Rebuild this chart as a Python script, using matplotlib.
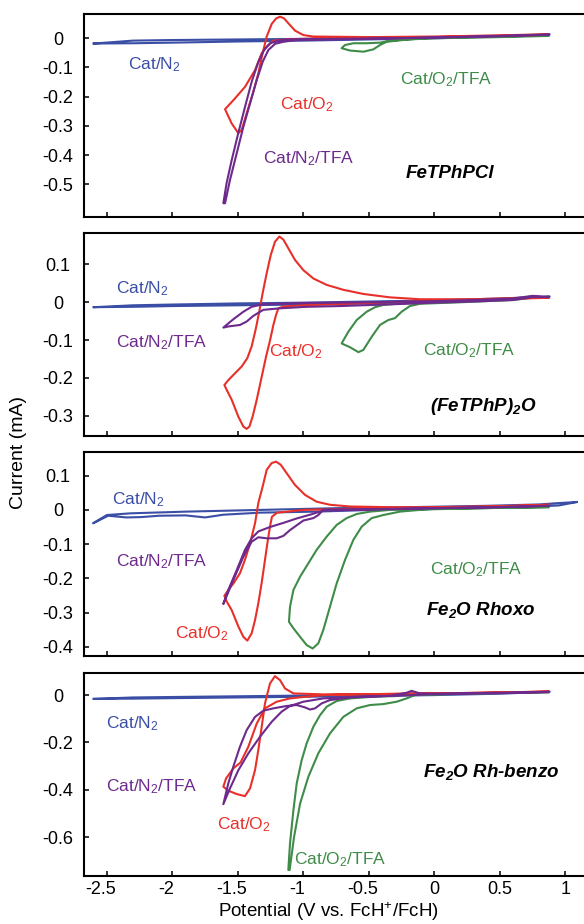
import matplotlib
matplotlib.use('Agg')
import matplotlib.pyplot as plt
from matplotlib.transforms import ScaledTranslation

plt.rcParams['font.family'] = ['Liberation Sans', 'DejaVu Sans']
plt.rcParams['mathtext.fontset'] = 'custom'
plt.rcParams['mathtext.rm'] = 'Liberation Sans'
plt.rcParams['mathtext.it'] = 'Liberation Sans:italic'
plt.rcParams['mathtext.bf'] = 'Liberation Sans:bold'
plt.rcParams['mathtext.bfit'] = 'Liberation Sans:bold:italic'
plt.rcParams['axes.unicode_minus'] = False

# ---------------- data (potential V vs FcH+/FcH, current mA) ----------------
# Panel 1: FeTPhPCl
p1_blue_E = [-2.60, -2.30, -2.00, -1.50, -1.00, -0.50, 0.00, 0.50, 0.88, 0.50, 0.00, -0.50, -1.00, -1.50, -2.00, -2.30, -2.60]
p1_blue_I = [-0.018, -0.017, -0.015, -0.011, -0.008, -0.004, 0.000, 0.006, 0.013, 0.009, 0.004, 0.001, -0.002, -0.004, -0.006, -0.008, -0.018]
p1_red_E = [0.87, 0.50, 0.00, -0.50, -0.90, -1.10, -1.229, -1.280, -1.318, -1.369, -1.445, -1.522, -1.598,
            -1.548, -1.497, -1.471, -1.433, -1.382, -1.344, -1.311, -1.280, -1.242, -1.208, -1.178, -1.147,
            -1.114, -1.063, -1.000, -0.924, -0.50, 0.00, 0.50, 0.87]
p1_red_I = [0.012, 0.008, 0.004, 0.001, -0.001, -0.003, -0.008, -0.029, -0.051, -0.109, -0.166, -0.206, -0.243,
            -0.291, -0.325, -0.314, -0.257, -0.183, -0.120, -0.051, 0.006, 0.049, 0.068, 0.074, 0.068,
            0.051, 0.026, 0.011, 0.006, 0.004, 0.006, 0.010, 0.014]
p1_purple_E = [0.87, 0.50, 0.00, -0.50, -1.00, -1.102, -1.191, -1.254, -1.300, -1.343, -1.394, -1.445, -1.497,
               -1.547, -1.586, -1.611, -1.598, -1.560, -1.509, -1.458, -1.407, -1.356, -1.310, -1.267, -1.216,
               -1.153, -1.051, -0.50, 0.00, 0.50, 0.87]
p1_purple_I = [0.012, 0.007, 0.002, -0.001, -0.003, -0.004, -0.008, -0.017, -0.040, -0.080, -0.148, -0.234, -0.325,
               -0.417, -0.496, -0.565, -0.565, -0.485, -0.394, -0.303, -0.223, -0.143, -0.080, -0.040, -0.019,
               -0.012, -0.006, -0.002, 0.003, 0.008, 0.013]
p1_green_E = [0.87, 0.50, 0.00, -0.339, -0.415, -0.517, -0.618, -0.682, -0.708, -0.644, -0.542, -0.466, -0.415,
              -0.364, -0.20, 0.00, 0.50, 0.87]
p1_green_I = [0.010, 0.006, 0.002, -0.008, -0.015, -0.017, -0.017, -0.023, -0.034, -0.042, -0.046, -0.038, -0.023,
              -0.012, -0.004, 0.000, 0.004, 0.008]

# Panel 2: (FeTPhP)2O
p2_blue_E = [-2.60, -2.30, -2.00, -1.50, -1.00, -0.50, 0.00, 0.50, 0.88, 0.50, 0.00, -0.50, -1.00, -1.50, -2.00, -2.30, -2.60]
p2_blue_I = [-0.013, -0.012, -0.010, -0.008, -0.006, -0.003, 0.001, 0.007, 0.015, 0.010, 0.005, 0.002, -0.001, -0.003, -0.006, -0.008, -0.013]
p2_red_E = [0.87, 0.50, 0.00, -0.50, -1.00, -1.15, -1.191, -1.209, -1.229, -1.254, -1.285, -1.318, -1.356, -1.387,
            -1.412, -1.433, -1.458, -1.496, -1.547, -1.585, -1.603,
            -1.573, -1.522, -1.471, -1.428, -1.395, -1.365, -1.339, -1.311, -1.280, -1.249, -1.217, -1.183,
            -1.153, -1.115, -1.064, -1.000, -0.924, -0.822, -0.695, -0.542, -0.339, -0.11, 0.30, 0.87]
p2_red_I = [0.012, 0.008, 0.004, -0.002, -0.008, -0.011, -0.016, -0.034, -0.060, -0.100, -0.144, -0.197, -0.258, -0.302,
            -0.329, -0.335, -0.329, -0.303, -0.258, -0.232, -0.219,
            -0.206, -0.188, -0.170, -0.148, -0.117, -0.073, -0.029, 0.024, 0.077, 0.125, 0.160, 0.174,
            0.166, 0.143, 0.112, 0.085, 0.063, 0.046, 0.033, 0.022, 0.013, 0.008, 0.008, 0.014]
p2_purple_E = [0.87, 0.75, 0.60, 0.30, 0.00, -0.50, -1.00, -1.10, -1.306, -1.395, -1.458, -1.535, -1.611,
               -1.573, -1.484, -1.433, -1.382, -1.306, -1.178, -0.975, -0.72, -0.30, 0.00, 0.30, 0.60, 0.75, 0.87]
p2_purple_I = [0.014, 0.017, 0.010, 0.006, 0.003, 0.000, -0.002, -0.003, -0.005, -0.012, -0.025, -0.045, -0.067,
               -0.064, -0.060, -0.051, -0.036, -0.020, -0.016, -0.012, -0.010, -0.005, -0.001, 0.002, 0.006, 0.014, 0.014]
p2_green_E = [0.87, 0.75, 0.60, 0.30, 0.00, -0.288, -0.390, -0.453, -0.517, -0.593, -0.657, -0.708, -0.644, -0.580,
              -0.542, -0.478, -0.415, -0.352, -0.301, -0.250, -0.187, -0.11, 0.20, 0.60, 0.75, 0.87]
p2_green_I = [0.012, 0.016, 0.008, 0.004, 0.000, -0.004, -0.007, -0.013, -0.025, -0.047, -0.078, -0.109, -0.119, -0.132,
              -0.126, -0.091, -0.060, -0.047, -0.042, -0.025, -0.010, -0.004, 0.000, 0.006, 0.012, 0.012]

# Panel 3: Fe2O Rhoxo
p3_blue_E = [1.086, 0.95, 0.66, 0.10, -0.47, -0.90, -1.33, -1.61, -1.75, -1.90, -2.10, -2.24, -2.35, -2.49, -2.605,
             -2.50, -2.32, -1.895, -1.326, -0.758, -0.20, 0.40, 0.80, 0.95, 1.086]
p3_blue_I = [0.023, 0.013, 0.008, 0.005, 0.000, -0.005, -0.008, -0.014, -0.022, -0.016, -0.017, -0.021, -0.022, -0.017, -0.039,
             -0.015, -0.010, -0.005, 0.000, 0.005, 0.008, 0.012, 0.016, 0.020, 0.023]
p3_red_E = [0.87, 0.50, 0.00, -0.50, -1.00, -1.20, -1.24, -1.255, -1.275, -1.293, -1.319, -1.344, -1.369, -1.395,
            -1.428, -1.458, -1.496, -1.547, -1.585, -1.603,
            -1.573, -1.534, -1.484, -1.446, -1.407, -1.369, -1.344, -1.311, -1.280, -1.242, -1.208, -1.173,
            -1.127, -1.064, -0.988, -0.899, -0.797, -0.644, -0.339, 0.00, 0.50, 0.87]
p3_red_I = [0.015, 0.010, 0.006, 0.004, 0.000, -0.008, -0.020, -0.049, -0.098, -0.146, -0.215, -0.273, -0.322, -0.361,
            -0.382, -0.371, -0.341, -0.293, -0.268, -0.251,
            -0.234, -0.215, -0.185, -0.146, -0.098, -0.039, 0.020, 0.068, 0.117, 0.137, 0.141, 0.132,
            0.107, 0.073, 0.044, 0.024, 0.015, 0.010, 0.008, 0.008, 0.011, 0.015]
p3_purple_E = [0.87, 0.50, 0.00, -0.50, -0.80, -0.848, -0.886, -0.924, -1.000, -1.102, -1.153, -1.204, -1.280,
               -1.344, -1.395, -1.458, -1.535, -1.611,
               -1.573, -1.509, -1.446, -1.395, -1.344, -1.255, -1.153, -1.051, -0.949, -0.848, 0.00, 0.50, 0.87]
p3_purple_I = [0.012, 0.008, 0.005, 0.002, 0.001, 0.000, -0.015, -0.024, -0.031, -0.059, -0.076, -0.083, -0.083,
               -0.080, -0.093, -0.137, -0.205, -0.275,
               -0.234, -0.176, -0.117, -0.083, -0.063, -0.050, -0.038, -0.025, -0.014, -0.002, 0.005, 0.008, 0.012]
p3_green_E = [0.87, 0.50, 0.00, -0.11, -0.263, -0.390, -0.479, -0.555, -0.619, -0.682, -0.746, -0.797, -0.848,
              -0.886, -0.929, -0.975, -1.025, -1.076, -1.110,
              -1.102, -1.076, -1.025, -0.962, -0.899, -0.822, -0.746, -0.670, -0.593, -0.492, -0.339, 0.00, 0.50, 0.87]
p3_green_I = [0.008, 0.006, 0.002, 0.000, -0.005, -0.015, -0.024, -0.049, -0.088, -0.146, -0.215, -0.283, -0.351,
              -0.390, -0.405, -0.395, -0.371, -0.346, -0.327,
              -0.283, -0.234, -0.195, -0.156, -0.117, -0.078, -0.044, -0.024, -0.012, -0.005, 0.000, 0.003, 0.006, 0.008]

# Panel 4: Fe2O Rh-benzo
p4_blue_E = [-2.60, -2.30, -2.00, -1.50, -1.00, -0.50, 0.00, 0.50, 0.88, 0.50, 0.00, -0.50, -1.00, -1.50, -2.00, -2.30, -2.60]
p4_blue_I = [-0.016, -0.015, -0.013, -0.010, -0.007, -0.004, 0.000, 0.006, 0.014, 0.010, 0.005, 0.001, -0.002, -0.005, -0.008, -0.010, -0.016]
p4_red_E = [0.87, 0.50, 0.00, -0.50, -0.848, -1.00, -1.102, -1.204, -1.293, -1.356, -1.420, -1.480, -1.535, -1.590, -1.611,
            -1.573, -1.509, -1.446, -1.407, -1.369, -1.344, -1.318, -1.293, -1.255, -1.217, -1.178, -1.140, -1.076,
            -0.848, -0.50, 0.00, 0.50, 0.87]
p4_red_I = [0.015, 0.011, 0.007, 0.004, 0.000, -0.008, -0.014, -0.028, -0.056, -0.120, -0.218, -0.285, -0.310, -0.352, -0.387,
            -0.404, -0.418, -0.427, -0.394, -0.317, -0.232, -0.134, -0.035, 0.049, 0.080, 0.063, 0.028, 0.007,
            0.003, 0.004, 0.007, 0.011, 0.015]
p4_purple_E = [0.87, 0.50, 0.00, -0.11, -0.174, -0.212, -0.339, -0.644, -0.797, -0.860, -0.911, -0.949, -0.988,
               -1.051, -1.128, -1.229, -1.306, -1.369, -1.433, -1.484, -1.535, -1.573, -1.611,
               -1.560, -1.496, -1.420, -1.331, -1.242, -1.166, -1.102, -1.000, -0.848, -0.593, -0.30, 0.00, 0.50, 0.87]
p4_purple_I = [0.014, 0.010, 0.006, 0.007, 0.018, 0.010, -0.003, -0.010, -0.021, -0.035, -0.056, -0.061, -0.052,
               -0.042, -0.046, -0.056, -0.066, -0.092, -0.148, -0.218, -0.303, -0.373, -0.461,
               -0.394, -0.317, -0.246, -0.176, -0.113, -0.070, -0.046, -0.028, -0.014, -0.007, -0.003, 0.004, 0.008, 0.012]
p4_green_E = [0.87, 0.50, 0.20, -0.148, -0.212, -0.288, -0.390, -0.492, -0.593, -0.695, -0.797, -0.886, -0.962,
              -1.025, -1.071, -1.105, -1.115, -1.102, -1.076, -1.051, -1.013, -0.975, -0.924, -0.873, -0.822,
              -0.746, -0.644, -0.466, -0.288, -0.187, -0.11, 0.20, 0.50, 0.87]
p4_green_I = [0.012, 0.009, 0.005, 0.000, -0.014, -0.028, -0.038, -0.042, -0.056, -0.092, -0.162, -0.246, -0.345,
              -0.458, -0.599, -0.739, -0.739, -0.627, -0.486, -0.373, -0.275, -0.204, -0.134, -0.085, -0.049,
              -0.025, -0.014, -0.007, -0.004, 0.007, 0.004, 0.006, 0.010, 0.013]

# axis ticks / labels
x_ticks = [-2.5, -2.0, -1.5, -1.0, -0.5, 0.0, 0.5, 1.0]
x_tick_labels = ['-2.5', '-2', '-1.5', '-1', '-0.5', '0', '0.5', '1']
p1_yticks = [0.0, -0.1, -0.2, -0.3, -0.4, -0.5]
p1_ylabels = ['0', '-0.1', '-0.2', '-0.3', '-0.4', '-0.5']
p2_yticks = [0.1, 0.0, -0.1, -0.2, -0.3]
p2_ylabels = ['0.1', '0', '-0.1', '-0.2', '-0.3']
p3_yticks = [0.1, 0.0, -0.1, -0.2, -0.3, -0.4]
p3_ylabels = ['0.1', '0', '-0.1', '-0.2', '-0.3', '-0.4']
p4_yticks = [0.0, -0.2, -0.4, -0.6]
p4_ylabels = ['0', '-0.2', '-0.4', '-0.6']

panel_names = ['FeTPhPCl', r'(FeTPhP)$_\mathbfit{2}$O', r'Fe$_\mathbfit{2}$O Rhoxo', r'Fe$_\mathbfit{2}$O Rh-benzo']

# ---------------- style ----------------
C_BLUE = '#3b4ea6'
C_RED = '#e8302a'
C_PURPLE = '#6d2a8c'
C_GREEN = '#3f8c48'
LW = 1.5

fig = plt.figure(figsize=(5.84, 9.24), dpi=100)

rects = [
    [0.1435, 0.7655, 0.8565, 0.2193],
    [0.1435, 0.5285, 0.8565, 0.2190],
    [0.1435, 0.2904, 0.8565, 0.2207],
    [0.1435, 0.0523, 0.8565, 0.2190],
]
ylims = [(-0.611, 0.083), (-0.353, 0.1825), (-0.426, 0.170), (-0.763, 0.092)]
xlim = (-2.676, 1.142)

curves = [
    [(p1_blue_E, p1_blue_I, C_BLUE), (p1_green_E, p1_green_I, C_GREEN),
     (p1_red_E, p1_red_I, C_RED), (p1_purple_E, p1_purple_I, C_PURPLE)],
    [(p2_blue_E, p2_blue_I, C_BLUE), (p2_green_E, p2_green_I, C_GREEN),
     (p2_red_E, p2_red_I, C_RED), (p2_purple_E, p2_purple_I, C_PURPLE)],
    [(p3_blue_E, p3_blue_I, C_BLUE), (p3_green_E, p3_green_I, C_GREEN),
     (p3_red_E, p3_red_I, C_RED), (p3_purple_E, p3_purple_I, C_PURPLE)],
    [(p4_blue_E, p4_blue_I, C_BLUE), (p4_green_E, p4_green_I, C_GREEN),
     (p4_red_E, p4_red_I, C_RED), (p4_purple_E, p4_purple_I, C_PURPLE)],
]
yticks = [(p1_yticks, p1_ylabels), (p2_yticks, p2_ylabels), (p3_yticks, p3_ylabels), (p4_yticks, p4_ylabels)]

N2 = r'Cat/N$_2$'
O2 = r'Cat/O$_2$'
N2T = r'Cat/N$_2$/TFA'
O2T = r'Cat/O$_2$/TFA'
annotations = [
    [(N2, -2.335, -0.091, C_BLUE), (O2, -1.178, -0.228, C_RED), (N2T, -1.311, -0.411, C_PURPLE),
     (O2T, -0.26, -0.143, C_GREEN)],
    [(N2, -2.434, 0.037, C_BLUE), (N2T, -2.434, -0.106, C_PURPLE), (O2, -1.263, -0.131, C_RED),
     (O2T, -0.089, -0.129, C_GREEN)],
    [(N2, -2.463, 0.029, C_BLUE), (N2T, -2.434, -0.151, C_PURPLE), (O2T, -0.033, -0.176, C_GREEN),
     (O2, -1.98, -0.361, C_RED)],
    [(N2, -2.506, -0.120, C_BLUE), (N2T, -2.506, -0.387, C_PURPLE), (O2, -1.661, -0.546, C_RED),
     (O2T, -1.070, -0.697, C_GREEN)],
]
name_pos = [(-0.217, -0.462), (-0.03, -0.276), (-0.061, -0.293), (-0.089, -0.327)]

for k in range(4):
    ax = fig.add_axes(rects[k])
    for E, I, c in curves[k]:
        ax.plot(E, I, color=c, lw=LW, solid_joinstyle='round')
    ax.set_xlim(*xlim)
    ax.set_ylim(*ylims[k])
    ax.spines['right'].set_visible(False)
    for s in ['top', 'left', 'bottom']:
        ax.spines[s].set_linewidth(1.5)
        ax.spines[s].set_color('black')
    ax.set_xticks(x_ticks)
    ax.set_yticks(yticks[k][0], labels=yticks[k][1])
    ax.tick_params(axis='both', direction='in', length=3.5, width=1.1, top=False, right=False)
    ax.tick_params(axis='y', labelsize=13, pad=18.5)
    for lab in ax.get_yticklabels():
        lab.set_horizontalalignment('center')
    if k == 3:
        ax.set_xticklabels(x_tick_labels)
        ax.tick_params(axis='x', labelsize=13, pad=4)
        for lab, v in zip(ax.get_xticklabels(), x_ticks):
            if v < 0:
                lab.set_transform(lab.get_transform() + ScaledTranslation(-6 / 100, 0, fig.dpi_scale_trans))
    else:
        ax.set_xticklabels([])
    for txt, x, y, c in annotations[k]:
        ax.text(x, y, txt, color=c, fontsize=12.5, ha='left', va='center')
    nx, ny = name_pos[k]
    ax.text(nx, ny, panel_names[k], fontsize=13.5, fontweight='bold', fontstyle='italic',
            ha='left', va='center', color='black')

fig.text(0.031, 0.510, 'Current (mA)', rotation=90, fontsize=14, ha='center', va='center')
fig.text(0.563, 0.0133, r'Potential (V vs. FcH$^{+}$/FcH)', fontsize=13.5, ha='center', va='center')

fig.savefig('out.png', dpi=100)
